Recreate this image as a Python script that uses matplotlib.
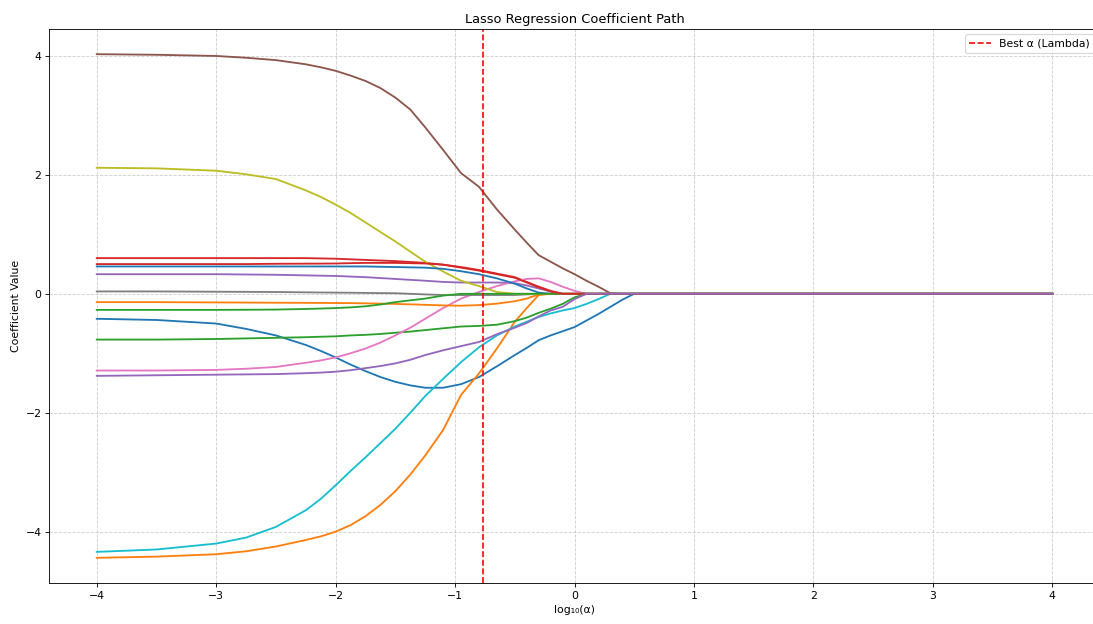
import numpy as np
import matplotlib
matplotlib.use('Agg')
import matplotlib.pyplot as plt

# log10(alpha) grid where the path was sampled
log_alpha = [-4, -3.5, -3, -2.75, -2.5, -2.25, -2.125, -2, -1.875, -1.75, -1.625, -1.5, -1.375, -1.25,
             -1.1, -0.95, -0.8, -0.65, -0.5, -0.4, -0.3, -0.2, -0.1, 0, 0.1, 0.2, 0.3, 0.4, 0.5, 0.6, 4]

# coefficient of each feature along the path
coef_0 = [-0.42, -0.44, -0.50, -0.59, -0.70, -0.86, -0.96, -1.07, -1.19, -1.30, -1.40, -1.48, -1.54, -1.58,
          -1.58, -1.52, -1.40, -1.22, -1.03, -0.91, -0.78, -0.70, -0.63, -0.56, -0.45, -0.34, -0.22, -0.10, 0, 0, 0]
coef_1 = [-4.44, -4.42, -4.38, -4.33, -4.25, -4.14, -4.08, -4.00, -3.89, -3.74, -3.55, -3.32, -3.04, -2.72,
          -2.29, -1.70, -1.34, -0.92, -0.47, -0.24, -0.02, 0, 0, 0, 0, 0, 0, 0, 0, 0, 0]
coef_2 = [-0.77, -0.77, -0.76, -0.75, -0.74, -0.73, -0.722, -0.715, -0.70, -0.69, -0.675, -0.655, -0.635, -0.61,
          -0.58, -0.55, -0.54, -0.52, -0.46, -0.40, -0.32, -0.25, -0.17, -0.06, 0, 0, 0, 0, 0, 0, 0]
coef_3 = [0.60, 0.60, 0.60, 0.60, 0.60, 0.60, 0.595, 0.59, 0.58, 0.57, 0.56, 0.55, 0.535, 0.52,
          0.49, 0.45, 0.40, 0.34, 0.28, 0.20, 0.12, 0.05, 0, 0, 0, 0, 0, 0, 0, 0, 0]
coef_4 = [0.33, 0.33, 0.33, 0.325, 0.32, 0.31, 0.305, 0.30, 0.29, 0.28, 0.265, 0.25, 0.235, 0.22,
          0.20, 0.19, 0.19, 0.19, 0.18, 0.14, 0.09, 0.04, 0, 0, 0, 0, 0, 0, 0, 0, 0]
coef_5 = [4.03, 4.02, 4.00, 3.97, 3.93, 3.86, 3.81, 3.75, 3.67, 3.58, 3.46, 3.30, 3.10, 2.80,
          2.42, 2.03, 1.80, 1.42, 1.08, 0.86, 0.65, 0.54, 0.43, 0.33, 0.22, 0.12, 0.01, 0, 0, 0, 0]
coef_6 = [-1.29, -1.29, -1.28, -1.26, -1.23, -1.16, -1.12, -1.07, -1.00, -0.92, -0.82, -0.70, -0.57, -0.42,
          -0.24, -0.08, 0.03, 0.13, 0.21, 0.25, 0.26, 0.20, 0.12, 0.05, 0, 0, 0, 0, 0, 0, 0]
coef_7 = [0.04, 0.04, 0.035, 0.033, 0.03, 0.025, 0.022, 0.02, 0.018, 0.015, 0.012, 0.01, 0, -0.01,
          -0.02, -0.02, -0.02, -0.02, -0.02, -0.01, 0, 0, 0, 0, 0, 0, 0, 0, 0, 0, 0]
coef_8 = [2.12, 2.11, 2.07, 2.01, 1.93, 1.74, 1.63, 1.50, 1.36, 1.20, 1.04, 0.88, 0.71, 0.54,
          0.375, 0.22, 0.13, 0.03, 0, 0, 0, 0, 0, 0, 0, 0, 0, 0, 0, 0, 0]
coef_9 = [-4.34, -4.30, -4.20, -4.10, -3.92, -3.64, -3.45, -3.22, -2.98, -2.75, -2.51, -2.27, -2.00, -1.72,
          -1.43, -1.15, -0.90, -0.70, -0.55, -0.47, -0.39, -0.33, -0.28, -0.24, -0.17, -0.09, 0, 0, 0, 0, 0]
coef_10 = [0.46, 0.46, 0.46, 0.46, 0.46, 0.46, 0.46, 0.46, 0.46, 0.46, 0.455, 0.45, 0.445, 0.44,
           0.42, 0.38, 0.33, 0.26, 0.17, 0.09, 0.02, 0, 0, 0, 0, 0, 0, 0, 0, 0, 0]
coef_11 = [-0.14, -0.14, -0.145, -0.147, -0.15, -0.152, -0.153, -0.155, -0.157, -0.16, -0.165, -0.17, -0.177, -0.185,
           -0.195, -0.20, -0.19, -0.165, -0.125, -0.08, -0.01, 0, 0, 0, 0, 0, 0, 0, 0, 0, 0]
coef_12 = [-0.27, -0.27, -0.27, -0.268, -0.265, -0.255, -0.248, -0.24, -0.228, -0.21, -0.18, -0.14, -0.11, -0.08,
           -0.03, 0, 0, 0, 0, 0, 0, 0, 0, 0, 0, 0, 0, 0, 0, 0, 0]
coef_13 = [0.50, 0.50, 0.50, 0.50, 0.505, 0.507, 0.508, 0.51, 0.515, 0.52, 0.52, 0.52, 0.515, 0.51,
           0.49, 0.44, 0.39, 0.33, 0.27, 0.19, 0.11, 0.04, 0, 0, 0, 0, 0, 0, 0, 0, 0]
coef_14 = [-1.38, -1.37, -1.36, -1.355, -1.35, -1.335, -1.325, -1.31, -1.285, -1.25, -1.215, -1.17, -1.11, -1.03,
           -0.95, -0.88, -0.81, -0.68, -0.57, -0.49, -0.38, -0.28, -0.22, -0.09, 0, 0, 0, 0, 0, 0, 0]

coefs = [coef_0, coef_1, coef_2, coef_3, coef_4, coef_5, coef_6, coef_7,
         coef_8, coef_9, coef_10, coef_11, coef_12, coef_13, coef_14]

best_log_alpha = -0.77

dpi = 78
fig = plt.figure(figsize=(1093 / dpi, 624 / dpi), dpi=dpi)
ax = fig.add_axes([49 / 1093, 41 / 624, 1051 / 1093, 554 / 624])

for c in coefs:
    ax.plot(log_alpha, c, linewidth=1.7)

ax.axvline(best_log_alpha, color='red', linestyle='--', label='Best α (Lambda)')

ax.set_title('Lasso Regression Coefficient Path', fontsize=12)
ax.set_xlabel('log₁₀(α)')
ax.set_ylabel('Coefficient Value')
ax.legend(loc='upper right')
ax.grid(True, linestyle='--', alpha=0.6)

fig.savefig('out.png', dpi=dpi)
